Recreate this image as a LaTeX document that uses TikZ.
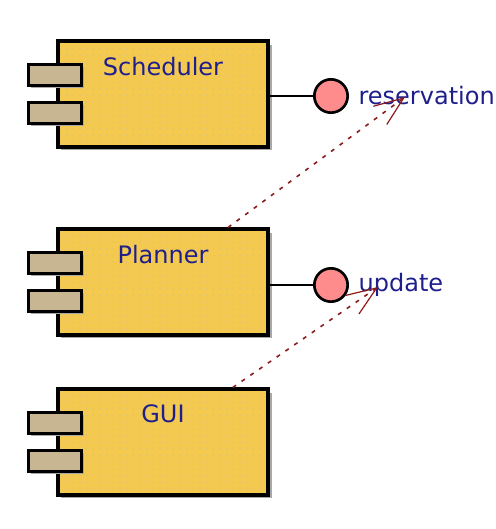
\documentclass[tikz,border=0pt]{standalone}
\usepackage{fontspec}
\usepackage{tikz}
\usepackage{xcolor}
\usetikzlibrary{arrows.meta,positioning,shadows,patterns.meta}
\setmainfont{DejaVu Sans}

\definecolor{compfill}{HTML}{F4C94F}
\definecolor{compdot}{HTML}{D2BE8E}
\definecolor{portfill}{HTML}{C8B591}
\definecolor{ifacefill}{HTML}{FF8C8C}
\definecolor{textblue}{HTML}{1E1E8C}
\definecolor{depred}{HTML}{8C1C1C}
\definecolor{shadowgray}{HTML}{A8A8A8}

\begin{document}
\begin{tikzpicture}[
    x=0.75pt, y=-0.75pt,
    font=\fontsize{18}{20}\selectfont,
    comp/.style={draw, line width=2.8pt, minimum width=158pt, minimum height=79pt, inner sep=0pt,
        drop shadow={shadow xshift=2.5pt, shadow yshift=-2.5pt, fill=shadowgray, opacity=1},
        preaction={fill=compfill}, pattern={Dots[distance=5pt, radius=0.5pt]}, pattern color=compdot},
    port/.style={draw, line width=2.5pt, fill=portfill, minimum width=40pt, minimum height=16pt, inner sep=0pt,
        drop shadow={shadow xshift=2pt, shadow yshift=-2pt, fill=shadowgray, opacity=1}},
    cname/.style={text=textblue, inner sep=0pt},
    iface/.style={circle, draw, line width=2pt, fill=ifacefill, minimum size=25pt, inner sep=0pt},
    ilabel/.style={text=textblue, inner sep=0pt},
    stick/.style={line width=1pt},
    dep/.style={draw=depred, line width=1.2pt, dash pattern=on 3pt off 5pt,
        -{Straight Barb[length=22pt, width=17pt, line width=0.9pt]}}
]
\useasboundingbox (0,0) rectangle (496,529);

% components
\node[comp] (sched) at (163,94) {};
\node[port] (sched-p1) at (55,75) {};
\node[port] (sched-p2) at (55,113) {};
\node[cname, below=13pt of sched.north] {Scheduler};

\node[comp] (plan) at (163,282) {};
\node[port] (plan-p1) at (55,263) {};
\node[port] (plan-p2) at (55,301) {};
\node[cname, below=13pt of plan.north] {Planner};

\node[comp] (gui) at (163,442) {};
\node[port] (gui-p1) at (55,423) {};
\node[port] (gui-p2) at (55,461) {};
\node[cname, below=13pt of gui.north] {GUI};

% interfaces
\node[iface] (resv) at (331,96) {};
\node[ilabel, right=7pt of resv] (resv-lbl) {reservation};
\draw[stick] (sched.east |- resv) -- (resv);

\node[iface] (upd) at (331,285) {};
\node[ilabel, right=7pt of upd] (upd-lbl) {update};
\draw[stick] (plan.east |- upd) -- (upd);

% dependencies
\coordinate (resv-tip) at (405,97);
\coordinate (upd-tip) at (378,287);
\draw[dep] (plan.40) -- (resv-tip);
\draw[dep] (gui.38) -- (upd-tip);
\end{tikzpicture}
\end{document}
